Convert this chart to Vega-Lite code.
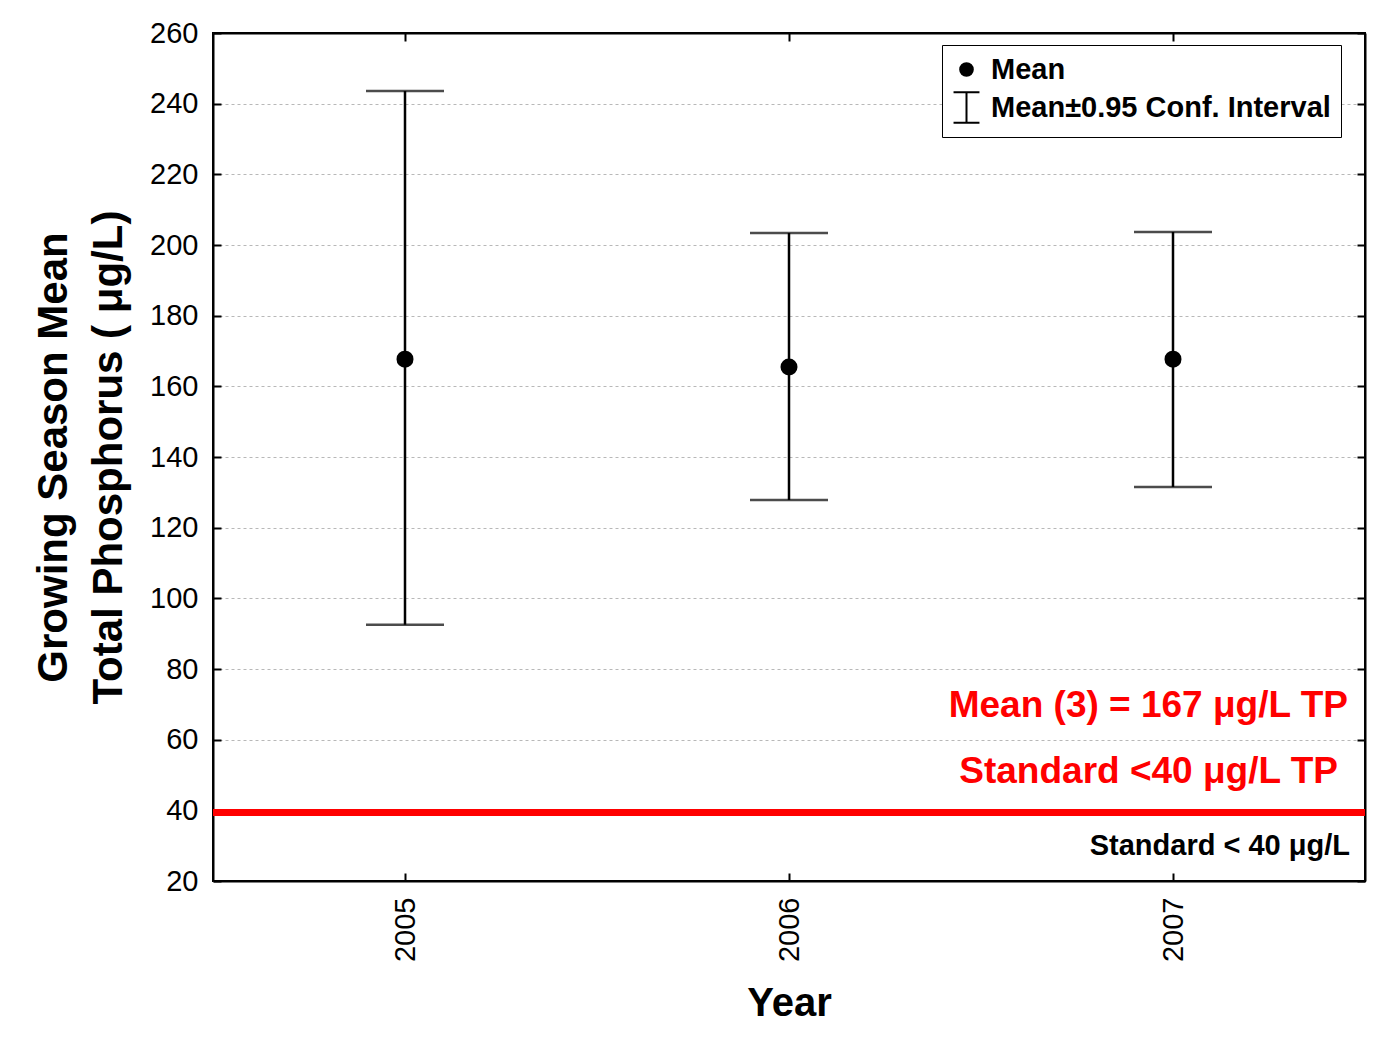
{
  "$schema": "https://vega.github.io/schema/vega-lite/v6.json",
  "width": 1152,
  "height": 848,
  "autosize": {"type": "none"},
  "padding": {"left": 213, "top": 33, "right": 12, "bottom": 156},
  "background": "white",
  "config": {
    "font": "Liberation Sans",
    "view": {"stroke": "black", "strokeWidth": 2},
    "axis": {
      "domainColor": "black",
      "domainWidth": 2,
      "tickColor": "black",
      "tickWidth": 2,
      "labelColor": "black",
      "titleColor": "black",
      "labelFont": "Liberation Sans",
      "titleFont": "Liberation Sans"
    },
    "legend": {
      "labelFontSize": 29, "labelFontWeight": "bold", "labelColor": "black", "labelFont": "Liberation Sans",
      "labelLimit": 600, "symbolSize": 160, "symbolStrokeWidth": 2,
      "strokeColor": "black", "fillColor": "white", "padding": 10, "rowPadding": 3, "labelOffset": 10
    }
  },
  "datasets": {
    "stats": [
      {"year": "2005", "mean": 167.7, "lower": 92.5, "upper": 243.6, "series": "Mean"},
      {"year": "2006", "mean": 165.5, "lower": 127.8, "upper": 203.4, "series": "Mean"},
      {"year": "2007", "mean": 167.7, "lower": 131.5, "upper": 203.7, "series": "Mean"}
    ]
  },
  "layer": [
    {
      "data": {"name": "stats"},
      "mark": {"type": "rule", "color": "black", "strokeWidth": 2.5},
      "encoding": {
        "x": {
          "field": "year", "type": "nominal",
          "scale": {"type": "point", "padding": 0.5},
          "axis": {
            "orient": "bottom", "labelAngle": -90, "labelFontSize": 29,
            "labelPadding": 24, "tickSize": -8, "grid": false,
            "title": "Year", "titleFontSize": 40, "titleFontWeight": "bold", "titlePadding": 22
          }
        },
        "y": {
          "field": "lower", "type": "quantitative",
          "scale": {"domain": [20, 260], "nice": false, "zero": false},
          "axis": {
            "orient": "left", "values": [20, 40, 60, 80, 100, 120, 140, 160, 180, 200, 220, 240, 260],
            "labelFontSize": 29, "labelPadding": 23, "tickSize": -8,
            "grid": true, "gridColor": "#b8b8b8", "gridDash": [3, 3], "gridWidth": 1,
            "title": ["Growing Season Mean", "Total Phosphorus ( μg/L)"],
            "titleFontSize": 42, "titleFontWeight": "bold", "titleLineHeight": 55, "titlePadding": 19
          }
        },
        "y2": {"field": "upper"}
      }
    },
    {
      "data": {"name": "stats"},
      "mark": {"type": "tick", "orient": "horizontal", "color": "black", "size": 78, "thickness": 2.5},
      "encoding": {
        "x": {"field": "year", "type": "nominal", "axis": {"orient": "top", "labels": false, "title": null, "tickSize": -8, "grid": false}},
        "y": {"field": "lower", "type": "quantitative", "axis": {"orient": "right", "labels": false, "title": null, "tickSize": -8, "grid": false, "values": [20, 40, 60, 80, 100, 120, 140, 160, 180, 200, 220, 240, 260]}}
      }
    },
    {
      "data": {"name": "stats"},
      "mark": {"type": "tick", "orient": "horizontal", "color": "black", "size": 78, "thickness": 2.5},
      "encoding": {
        "x": {"field": "year", "type": "nominal", "axis": null},
        "y": {"field": "upper", "type": "quantitative", "axis": null}
      }
    },
    {
      "data": {"values": [{"standard": 39.4}]},
      "mark": {"type": "rule", "color": "#ff0000", "strokeWidth": 7},
      "encoding": {
        "y": {"field": "standard", "type": "quantitative", "axis": null}
      }
    },
    {
      "data": {"name": "stats"},
      "mark": {"type": "point", "filled": true, "strokeWidth": 2, "size": 225, "opacity": 1},
      "encoding": {
        "x": {"field": "year", "type": "nominal", "axis": null},
        "y": {"field": "mean", "type": "quantitative", "axis": null},
        "shape": {
          "field": "series", "type": "nominal",
          "scale": {
            "domain": ["Mean", "Mean±0.95 Conf. Interval"],
            "range": ["circle", "M-2.05,-2.4L2.05,-2.4M0,-2.4L0,2.4M-2.05,2.4L2.05,2.4"]
          },
          "legend": {"title": null, "orient": "none", "legendX": 729, "legendY": 12}
        },
        "fill": {
          "field": "series", "type": "nominal",
          "scale": {"domain": ["Mean", "Mean±0.95 Conf. Interval"], "range": ["black", "black"]},
          "legend": {"title": null, "orient": "none", "legendX": 729, "legendY": 12}
        },
        "stroke": {
          "field": "series", "type": "nominal",
          "scale": {"domain": ["Mean", "Mean±0.95 Conf. Interval"], "range": ["black", "black"]},
          "legend": {"title": null, "orient": "none", "legendX": 729, "legendY": 12}
        }
      }
    },
    {
      "data": {"values": [{"label": "Mean (3) = 167 μg/L TP", "v": 66.4}]},
      "mark": {"type": "text", "x": {"expr": "width"}, "dx": -17, "align": "right", "baseline": "alphabetic", "fontSize": 37, "fontWeight": "bold", "color": "#ff0000"},
      "encoding": {
        "y": {"field": "v", "type": "quantitative", "axis": null},
        "text": {"field": "label"}
      }
    },
    {
      "data": {"values": [{"label": "Standard <40 μg/L TP", "v": 47.7}]},
      "mark": {"type": "text", "x": {"expr": "width"}, "dx": -27, "align": "right", "baseline": "alphabetic", "fontSize": 37, "fontWeight": "bold", "color": "#ff0000"},
      "encoding": {
        "y": {"field": "v", "type": "quantitative", "axis": null},
        "text": {"field": "label"}
      }
    },
    {
      "data": {"values": [{"label": "Standard < 40 μg/L", "v": 27.4}]},
      "mark": {"type": "text", "x": {"expr": "width"}, "dx": -15, "align": "right", "baseline": "alphabetic", "fontSize": 29, "fontWeight": "bold", "color": "black"},
      "encoding": {
        "y": {"field": "v", "type": "quantitative", "axis": null},
        "text": {"field": "label"}
      }
    }
  ],
  "resolve": {"axis": {"x": "independent", "y": "independent"}}
}
